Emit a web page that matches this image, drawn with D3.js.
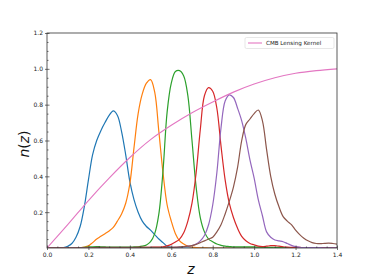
<!DOCTYPE html>
<html><head><meta charset="utf-8">
<script src="https://cdn.jsdelivr.net/npm/d3@7"></script>
<style>body{margin:0;background:#fff}svg{display:block}</style>
</head><body>
<svg id="c" width="374" height="280"></svg>
<script>
// z grid: 0.00 .. 1.40 step 0.02 (71 points)
const zGrid = d3.range(71).map(i => +(i * 0.02).toFixed(2));

const blue = [0,0,0,0,0.002,0.01,0.025,0.06,0.12,0.23,0.38,0.52,0.60,0.655,0.70,0.74,0.765,0.74,0.65,0.52,0.37,0.27,0.20,0.15,0.12,0.10,0.075,0.05,0.03,0.01,0.004,0.002,0.001,0,0,0,0,0,0,0,0,0,0,0,0,0,0,0,0,0,0,0,0,0,0,0,0,0,0,0,0,0,0,0,0,0,0,0,0,0,0];
const orange = [0,0,0,0,0,0,0,0,0.002,0.005,0.012,0.03,0.05,0.065,0.08,0.095,0.115,0.15,0.19,0.25,0.36,0.56,0.75,0.86,0.92,0.94,0.87,0.65,0.42,0.24,0.15,0.08,0.04,0.022,0.01,0.005,0.002,0.001,0.001,0,0,0,0,0,0,0,0,0,0,0,0,0,0,0,0,0,0,0,0,0,0,0,0,0,0,0,0,0,0,0,0];
const green = [0,0,0,0,0,0,0,0,0.002,0.004,0.005,0.007,0.008,0.007,0.006,0.005,0.005,0.005,0.005,0.005,0.005,0.006,0.007,0.01,0.017,0.035,0.08,0.19,0.43,0.76,0.92,0.985,0.99,0.96,0.85,0.60,0.34,0.17,0.09,0.05,0.035,0.022,0.015,0.01,0.008,0.006,0.006,0.006,0.006,0.006,0.006,0.005,0.004,0.004,0.004,0.004,0.003,0.002,0.002,0.001,0.001,0,0,0,0,0,0,0,0,0,0];
const red = [0,0,0,0,0,0,0,0,0,0,0,0,0,0,0,0,0,0,0,0,0,0.002,0.003,0.003,0.004,0.004,0.005,0.005,0.007,0.012,0.02,0.033,0.05,0.085,0.15,0.25,0.42,0.66,0.85,0.895,0.875,0.78,0.57,0.38,0.25,0.17,0.11,0.065,0.04,0.025,0.018,0.01,0.008,0.01,0.013,0.013,0.01,0.007,0.005,0.004,0.003,0.003,0.002,0.002,0.002,0.002,0.002,0.002,0.001,0.001,0.001];
const purple = [0,0,0,0,0,0,0,0,0,0,0,0,0,0,0,0,0,0,0,0,0,0,0,0,0,0,0,0,0,0.002,0.003,0.004,0.005,0.007,0.01,0.013,0.022,0.04,0.07,0.13,0.24,0.42,0.67,0.82,0.855,0.84,0.78,0.71,0.61,0.49,0.39,0.27,0.18,0.09,0.06,0.045,0.04,0.035,0.025,0.015,0.008,0.004,0.002,0.002,0.002,0.002,0.002,0.001,0.001,0.001,0.001];
const brown = [0,0,0,0,0,0,0,0,0,0,0.001,0.002,0.003,0.003,0.003,0.003,0.003,0.003,0.003,0.003,0.003,0.003,0.003,0.003,0.003,0.003,0.003,0.003,0.003,0.003,0.004,0.005,0.006,0.008,0.01,0.013,0.02,0.03,0.04,0.05,0.06,0.09,0.13,0.19,0.26,0.34,0.45,0.60,0.69,0.72,0.75,0.77,0.71,0.55,0.40,0.30,0.23,0.175,0.15,0.13,0.10,0.075,0.055,0.04,0.03,0.025,0.024,0.026,0.027,0.025,0.022];

// CMB lensing kernel
const cmbZ = [0,0.1,0.2,0.3,0.4,0.5,0.6,0.7,0.8,0.9,1.0,1.1,1.2,1.3,1.4];
const cmbK = [0,0.13,0.265,0.39,0.505,0.605,0.685,0.755,0.815,0.87,0.915,0.95,0.975,0.99,1.0];

const seriesNames = ["bin1","bin2","bin3","bin4","bin5","bin6"];
const seriesValues = [blue, orange, green, red, purple, brown];
const seriesColors = ["#1f77b4","#ff7f0e","#2ca02c","#d62728","#9467bd","#8c564b"];
const cmbColor = "#e377c2";
const legendLabel = "CMB Lensing Kernel";

const xTicks = [0,0.2,0.4,0.6,0.8,1.0,1.2,1.4];
const yTicks = [0.2,0.4,0.6,0.8,1.0,1.2];

const L = 47, R = 337, T = 33, B = 248;
const svg = d3.select("#c");
const x = d3.scaleLinear().domain([0,1.4]).range([L,R]);
const y = d3.scaleLinear().domain([0,1.2]).range([B,T]);

svg.append("clipPath").attr("id","pc").append("rect")
  .attr("x",L).attr("y",T).attr("width",R-L).attr("height",B-T);

const g = svg.append("g").attr("clip-path","url(#pc)");
const line = d3.line().x(d=>x(d[0])).y(d=>y(d[1])).curve(d3.curveCatmullRom.alpha(0.5));

seriesValues.forEach((vals,i)=>{
  g.append("path").datum(zGrid.map((z,j)=>[z,vals[j]]))
    .attr("d",line).attr("fill","none").attr("stroke",seriesColors[i])
    .attr("stroke-width",1.2).attr("stroke-linejoin","round");
});
g.append("path").datum(cmbZ.map((z,j)=>[z,cmbK[j]]))
  .attr("d",line)
  .attr("fill","none").attr("stroke",cmbColor).attr("stroke-width",1.1);

// frame
svg.append("rect").attr("x",L).attr("y",T).attr("width",R-L).attr("height",B-T)
  .attr("fill","none").attr("stroke","#333").attr("stroke-width",0.8);

// axes
const fmt = d3.format(".1f");
const xAx = svg.append("g").attr("transform",`translate(0,${B})`)
  .call(d3.axisBottom(x).tickValues(xTicks).tickFormat(fmt).tickSizeInner(-2.5).tickSizeOuter(0).tickPadding(5));
const xMinor = svg.append("g").attr("transform",`translate(0,${B})`)
  .call(d3.axisBottom(x).tickValues(d3.range(0,1.401,0.05).filter(v=>Math.abs(v/0.2-Math.round(v/0.2))>0.01)).tickFormat("").tickSizeInner(-1.5).tickSizeOuter(0));
const yAx = svg.append("g").attr("transform",`translate(${L},0)`)
  .call(d3.axisLeft(y).tickValues(yTicks).tickFormat(fmt).tickSizeInner(-2.5).tickSizeOuter(0).tickPadding(4));
const yMinor = svg.append("g").attr("transform",`translate(${L},0)`)
  .call(d3.axisLeft(y).tickValues(d3.range(0,1.201,0.05).filter(v=>Math.abs(v/0.2-Math.round(v/0.2))>0.01)).tickFormat("").tickSizeInner(-1.5).tickSizeOuter(0));
[xAx,xMinor,yAx,yMinor].forEach(a=>{
  a.select(".domain").remove();
  a.selectAll("line").attr("stroke","#333").attr("stroke-width",0.7);
  a.selectAll("text").attr("font-family","DejaVu Sans").attr("font-size",6).attr("fill","#222");
});
xAx.selectAll(".tick").append("line").attr("y1",0).attr("y2",2).attr("stroke","#333").attr("stroke-width",0.7);
yAx.selectAll(".tick").append("line").attr("x1",0).attr("x2",-2).attr("stroke","#333").attr("stroke-width",0.7);

// axis labels
svg.append("text").attr("x",191).attr("y",274).attr("text-anchor","middle")
  .attr("font-family","DejaVu Sans").attr("font-size",14).attr("font-style","italic").attr("fill","#111").text("z");
const yl = svg.append("text").attr("transform","translate(29,144) rotate(-90)").attr("text-anchor","middle")
  .attr("font-family","DejaVu Sans").attr("font-size",14).attr("fill","#111");
yl.append("tspan").attr("font-style","italic").text("n");
yl.append("tspan").text("(");
yl.append("tspan").attr("font-style","italic").text("z");
yl.append("tspan").text(")");

// legend
const lg = svg.append("g");
lg.append("rect").attr("x",245).attr("y",37.5).attr("width",89).attr("height",11).attr("rx",1.5)
  .attr("fill","#fff").attr("stroke","#ddd").attr("stroke-width",0.7);
lg.append("line").attr("x1",248).attr("x2",262).attr("y1",43).attr("y2",43)
  .attr("stroke",cmbColor).attr("stroke-width",1.1);
lg.append("text").attr("x",266).attr("y",45).attr("font-family","DejaVu Sans").attr("font-size",5.6)
  .attr("fill","#222").text(legendLabel);
</script>
</body></html>
